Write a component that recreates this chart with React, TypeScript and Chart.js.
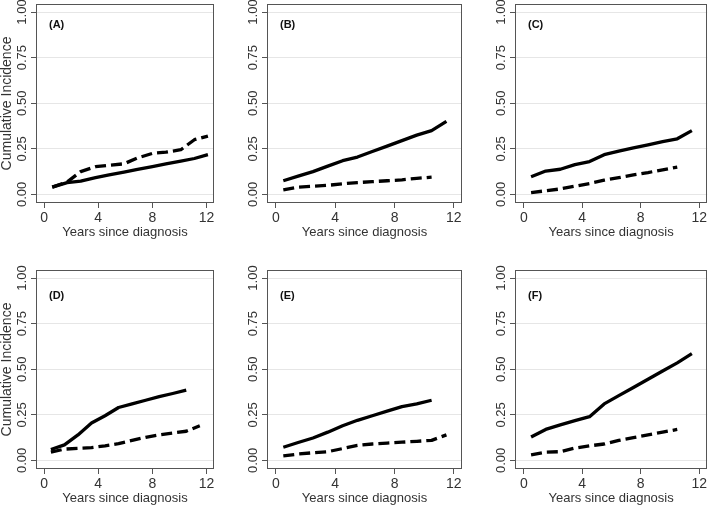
import React, { useEffect, useRef } from "react";
import { Chart, registerables } from "chart.js";
Chart.register(...registerables);

const FONT = 'Arial, "Liberation Sans", Helvetica, sans-serif';

// x positions (years since diagnosis)
const years = [0.5, 1.5, 2.5, 3.5, 4.5, 5.5, 6.5, 7.5, 8.5, 9.5, 10.5, 11.5];
const aYears = [0.6, 1.7, 2.7, 3.8, 4.8, 5.9, 6.9, 8.0, 9.0, 10.1, 11.1, 12.1];

// tick values
const xTicks = [0, 4, 8, 12];
const yTicks = [0, 0.25, 0.5, 0.75, 1];

// series (solid / dashed)
const aSolid = [0.04, 0.065, 0.073, 0.092, 0.107, 0.122, 0.137, 0.152, 0.167, 0.182, 0.197, 0.218];
const aDashed = [0.04, 0.068, 0.125, 0.152, 0.16, 0.168, 0.2, 0.225, 0.232, 0.245, 0.3, 0.32];
const bSolid = [0.075, 0.1, 0.125, 0.155, 0.185, 0.205, 0.235, 0.265, 0.295, 0.325, 0.35, 0.4];
const bDashed = [0.025, 0.04, 0.045, 0.05, 0.058, 0.065, 0.07, 0.075, 0.08, 0.088, 0.095];
const cSolid = [0.097, 0.128, 0.138, 0.163, 0.18, 0.218, 0.237, 0.255, 0.272, 0.29, 0.305, 0.35];
const cDashed = [0.01, 0.02, 0.03, 0.045, 0.06, 0.078, 0.092, 0.107, 0.12, 0.135, 0.15];
const dSolid = [0.06, 0.085, 0.14, 0.205, 0.245, 0.29, 0.31, 0.33, 0.35, 0.367, 0.385];
const dDashed = [0.045, 0.062, 0.066, 0.07, 0.08, 0.092, 0.11, 0.127, 0.14, 0.15, 0.16, 0.19];
const eSolid = [0.072, 0.098, 0.123, 0.155, 0.19, 0.22, 0.245, 0.27, 0.295, 0.31, 0.33];
const eDashed = [0.025, 0.035, 0.042, 0.048, 0.065, 0.082, 0.09, 0.095, 0.1, 0.105, 0.11, 0.14];
const fSolid = [0.128, 0.17, 0.195, 0.218, 0.24, 0.31, 0.355, 0.4, 0.445, 0.49, 0.535, 0.585];
const fDashed = [0.03, 0.045, 0.048, 0.068, 0.08, 0.09, 0.11, 0.125, 0.14, 0.155, 0.17];

const panelLabels = ["(A)", "(B)", "(C)", "(D)", "(E)", "(F)"];
const yTitle = "Cumulative Incidence";
const xTitle = "Years since diagnosis";

type PanelSpec = {
  label: string;
  left: number;
  top: number;
  width: number;
  yAxisWidth: number;
  padRight: number;
  padTop: number;
  padBottom: number;
  showTitle: boolean;
  labelDy: number;
  solidX: number[];
  solidY: number[];
  dashX: number[];
  dashY: number[];
};

const row1 = { top: 0, padTop: 4, padBottom: 14, labelDy: 21 };
const row2 = { top: 253, padTop: 17, padBottom: 1, labelDy: 26 };
const col1 = { left: 0, width: 230, yAxisWidth: 36, padRight: 16, showTitle: true };
const col2 = { left: 230, width: 240, yAxisWidth: 37, padRight: 8, showTitle: false };
const col3 = { left: 470, width: 239, yAxisWidth: 45, padRight: 1, showTitle: false };

const panels: PanelSpec[] = [
  { label: panelLabels[0], ...row1, ...col1, solidX: aYears, solidY: aSolid, dashX: aYears, dashY: aDashed },
  { label: panelLabels[1], ...row1, ...col2, solidX: years, solidY: bSolid, dashX: years, dashY: bDashed },
  { label: panelLabels[2], ...row1, ...col3, solidX: years, solidY: cSolid, dashX: years, dashY: cDashed },
  { label: panelLabels[3], ...row2, ...col1, solidX: years, solidY: dSolid, dashX: years, dashY: dDashed },
  { label: panelLabels[4], ...row2, ...col2, solidX: years, solidY: eSolid, dashX: years, dashY: eDashed },
  { label: panelLabels[5], ...row2, ...col3, solidX: years, solidY: fSolid, dashX: years, dashY: fDashed },
];

const toPts = (xs: number[], ys: number[]) => ys.map((y, i) => ({ x: xs[i], y }));

function PanelChart({ p }: { p: PanelSpec }) {
  const ref = useRef<HTMLCanvasElement>(null);
  useEffect(() => {
    const canvas = ref.current!;
    const framePlugin = {
      id: "frame" + p.label,
      afterDraw(chart: any) {
        const { ctx, chartArea } = chart;
        const { left, top, right, bottom } = chartArea;
        ctx.save();
        // box
        ctx.strokeStyle = "#555";
        ctx.lineWidth = 1;
        ctx.strokeRect(Math.round(left) + 0.5, Math.round(top) + 0.5, Math.round(right - left) - 1, Math.round(bottom - top) - 1);
        // y tick labels, rotated
        const ys = chart.scales.y;
        ctx.fillStyle = "#333";
        ctx.font = `13px ${FONT}`;
        ctx.textAlign = "center";
        ctx.textBaseline = "middle";
        ys.ticks.forEach((t: any) => {
          const py = ys.getPixelForValue(t.value);
          ctx.save();
          ctx.translate(left - 14, py);
          ctx.rotate(-Math.PI / 2);
          ctx.fillText(Number(t.value).toFixed(2), 0, 0);
          ctx.restore();
        });
        // panel label
        ctx.fillStyle = "#111";
        ctx.font = `bold 11px ${FONT}`;
        ctx.textAlign = "left";
        ctx.textBaseline = "middle";
        ctx.fillText(p.label, left + 13, top + p.labelDy);
        ctx.restore();
      },
    };
    const chart = new Chart(canvas, {
      type: "line",
      data: {
        datasets: [
          {
            data: toPts(p.solidX, p.solidY),
            borderColor: "#000",
            borderWidth: 3.3,
            pointRadius: 0,
            tension: 0,
            fill: false,
            borderCapStyle: "butt",
            borderJoinStyle: "round",
          },
          {
            data: toPts(p.dashX, p.dashY),
            borderColor: "#000",
            borderWidth: 3.3,
            borderDash: [11, 5],
            pointRadius: 0,
            tension: 0,
            fill: false,
            borderCapStyle: "butt",
            borderJoinStyle: "round",
          },
        ],
      },
      options: {
        responsive: false,
        animation: false,
        devicePixelRatio: 1,
        layout: { padding: { left: 0, right: p.padRight, top: p.padTop, bottom: p.padBottom } },
        plugins: { legend: { display: false }, tooltip: { enabled: false } },
        scales: {
          x: {
            type: "linear",
            min: -0.6,
            max: 12.55,
            afterBuildTicks: (s: any) => {
              s.ticks = xTicks.map((v) => ({ value: v }));
            },
            afterFit: (s: any) => {
              s.height = 36;
            },
            grid: { drawOnChartArea: false, drawTicks: true, tickLength: 5, tickColor: "#555", lineWidth: 1 },
            border: { display: false },
            ticks: {
              font: { family: FONT, size: 14 },
              color: "#333",
              padding: 2,
              maxRotation: 0,
              minRotation: 0,
              autoSkip: false,
              callback: (v: any) => String(v),
            },
            title: {
              display: true,
              text: xTitle,
              font: { family: FONT, size: 13, lineHeight: 1 },
              color: "#333",
              padding: 0,
            },
          },
          y: {
            type: "linear",
            min: -0.047,
            max: 1.044,
            afterBuildTicks: (s: any) => {
              s.ticks = yTicks.map((v) => ({ value: v }));
            },
            afterFit: (s: any) => {
              s.width = p.yAxisWidth;
            },
            grid: { color: "#e6e6e6", tickColor: "#555", tickLength: 5, lineWidth: 1 },
            border: { display: false },
            ticks: { display: false },
            title: {
              display: p.showTitle,
              text: yTitle,
              font: { family: FONT, size: 14, lineHeight: 1 },
              color: "#333",
              padding: 0,
            },
          },
        },
      },
      plugins: [framePlugin],
    } as any);
    return () => chart.destroy();
  }, [p]);
  return (
    <canvas
      ref={ref}
      width={p.width}
      height={253}
      style={{ position: "absolute", left: p.left, top: p.top, width: p.width, height: 253 }}
    />
  );
}

export default function App() {
  return (
    <div style={{ position: "absolute", left: 0, top: 0, width: 709, height: 506, background: "#fff", overflow: "hidden" }}>
      {panels.map((p) => (
        <PanelChart key={p.label} p={p} />
      ))}
    </div>
  );
}
